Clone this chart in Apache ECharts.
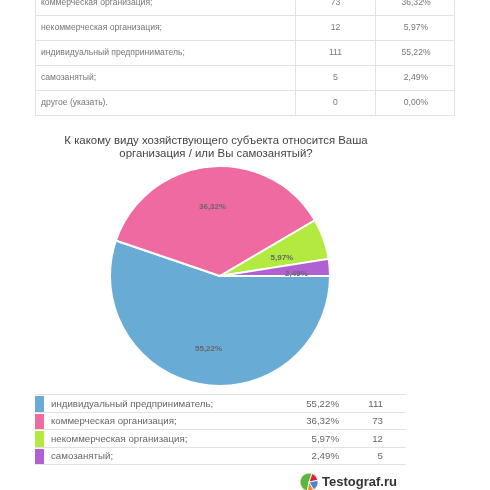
<!DOCTYPE html>
<html>
<head>
<meta charset="utf-8">
<script src="https://cdn.jsdelivr.net/npm/echarts@6/dist/echarts.min.js"></script>
<style>html,body{margin:0;padding:0;background:#fff;}#c{width:490px;height:490px;}</style>
</head>
<body>
<div id="c"></div>
<script>
// ---- data ----
var categories = ['коммерческая организация;', 'некоммерческая организация;', 'индивидуальный предприниматель;', 'самозанятый;', 'другое (указать).'];
var counts = [73, 12, 111, 5, 0];
var percents = ['36,32%', '5,97%', '55,22%', '2,49%', '0,00%'];
var sliceColors = ['#ef6aa0', '#b3ea3f', '#68acd6', '#b160d2', '#cccccc'];
var titleText = 'К какому виду хозяйствующего субъекта относится Ваша\nорганизация / или Вы самозанятый?';

// ---- layout ----
var CX = 220, CY = 276, R = 110;
var labelRadiusFactor = [0.61, 0.64, 0.57, 0.67];

var order = counts.map(function (v, i) { return i; })
  .filter(function (i) { return counts[i] > 0; })
  .sort(function (a, b) { return counts[b] - counts[a]; });
var total = counts.reduce(function (a, b) { return a + b; }, 0);

var pieData = order.map(function (i) {
  return { name: categories[i], value: counts[i], pct: percents[i], itemStyle: { color: sliceColors[i] } };
});

var mids = [];
var acc = 0;
order.forEach(function (i) {
  var span = counts[i] / total * 360;
  mids.push(-(acc + span / 2));
  acc += span;
});

var graphics = [];
var gray = '#666';
var lineCol = '#e2e2e2';
var tableFont = '8.6px "Liberation Sans", Arial, sans-serif';
var legendFont = '9.7px "Liberation Sans", Arial, sans-serif';

// top table
var tL = 35.5, tC1 = 295.5, tC2 = 375.5, tR = 454.5;
var rowLines = [15.5, 40.5, 65.5, 90.5, 115.5];
[tL, tC1, tC2, tR].forEach(function (x) {
  graphics.push({ type: 'line', shape: { x1: x, y1: 0, x2: x, y2: 115.5 }, style: { stroke: lineCol, lineWidth: 1 } });
});
rowLines.forEach(function (y) {
  graphics.push({ type: 'line', shape: { x1: tL, y1: y, x2: tR, y2: y }, style: { stroke: lineCol, lineWidth: 1 } });
});
categories.forEach(function (c, i) {
  var y = 3 + i * 25;
  graphics.push({ type: 'text', style: { text: c, x: 41, y: y, fill: '#777', font: tableFont, textVerticalAlign: 'middle' } });
  graphics.push({ type: 'text', style: { text: String(counts[i]), x: 335.5, y: y, fill: '#777', font: tableFont, textAlign: 'center', textVerticalAlign: 'middle' } });
  graphics.push({ type: 'text', style: { text: percents[i], x: 416, y: y, fill: '#777', font: tableFont, textAlign: 'center', textVerticalAlign: 'middle' } });
});

// bottom legend table
var lTop = 395, lH = 17.6;
order.forEach(function (i, k) {
  var top = lTop + k * lH;
  graphics.push({ type: 'line', shape: { x1: 35, y1: Math.round(top) - 0.5, x2: 406, y2: Math.round(top) - 0.5 }, style: { stroke: lineCol, lineWidth: 1 } });
  graphics.push({ type: 'rect', shape: { x: 35, y: Math.round(top) + 1, width: 9, height: 16 }, style: { fill: sliceColors[i] } });
  graphics.push({ type: 'text', style: { text: categories[i], x: 51, y: top + 9, fill: gray, font: legendFont, textVerticalAlign: 'middle' } });
  graphics.push({ type: 'text', style: { text: percents[i], x: 339, y: top + 9, fill: gray, font: legendFont, textAlign: 'right', textVerticalAlign: 'middle' } });
  graphics.push({ type: 'text', style: { text: String(counts[i]), x: 383, y: top + 9, fill: gray, font: legendFont, textAlign: 'right', textVerticalAlign: 'middle' } });
});
var lastY = Math.round(lTop + order.length * lH) - 0.5;
graphics.push({ type: 'line', shape: { x1: 35, y1: lastY, x2: 406, y2: lastY }, style: { stroke: lineCol, lineWidth: 1 } });

// logo
var lcx = 309, lcy = 482, lr = 9;
function deg(a) { return a * Math.PI / 180; }
var logoParts = [
  { s: 100, e: 290, c: '#5cb83c' },
  { s: 290, e: 350, c: '#d8253a' },
  { s: 350, e: 420, c: '#4a86d0' },
  { s: 420, e: 460, c: '#f08a2a' }
];
logoParts.forEach(function (p) {
  graphics.push({ type: 'sector', shape: { cx: lcx, cy: lcy, r: lr, r0: 0, startAngle: deg(p.s), endAngle: deg(p.e), clockwise: true }, style: { fill: p.c, stroke: '#fff', lineWidth: 0.8 } });
});
graphics.push({ type: 'text', style: { text: 'Testograf.ru', x: 322, y: 482, fill: '#333', font: 'bold 13px "Liberation Sans", Arial, sans-serif', textVerticalAlign: 'middle' } });

var chart = echarts.init(document.getElementById('c'), null, { renderer: 'canvas' });
chart.setOption({
  animation: false,
  title: {
    text: titleText,
    left: 211, top: 129, textAlign: 'center',
    textStyle: { fontSize: 11.4, fontWeight: 'normal', color: '#444', fontFamily: '"Liberation Sans", Arial, sans-serif', lineHeight: 13 }
  },
  graphic: graphics,
  series: [{
    type: 'pie',
    center: [CX, CY],
    radius: [0, R],
    startAngle: 0,
    clockwise: true,
    avoidLabelOverlap: false,
    itemStyle: { borderColor: '#fff', borderWidth: 2 },
    label: {
      show: true, position: 'inside',
      formatter: function (p) { return p.data.pct; },
      color: '#666', fontSize: 8, fontWeight: 'bold', fontFamily: '"Liberation Sans", Arial, sans-serif'
    },
    labelLine: { show: false },
    labelLayout: function (p) {
      var k = p.dataIndex;
      var a = mids[k] * Math.PI / 180;
      var d = (labelRadiusFactor[k] - 0.5) * R;
      return { dx: d * Math.cos(a), dy: -d * Math.sin(a) + 4 };
    },
    emphasis: { disabled: true },
    data: pieData
  }]
});
</script>
</body>
</html>
